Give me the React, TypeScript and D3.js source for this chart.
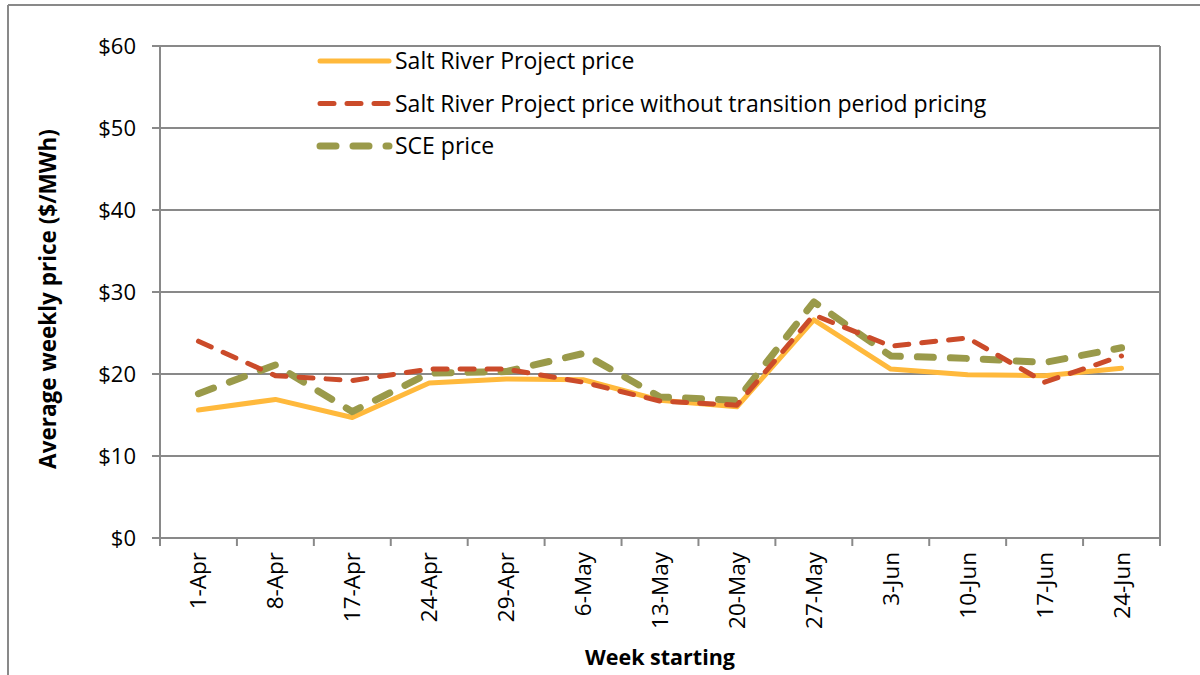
import * as d3 from 'd3'

const weeks = ['1-Apr', '8-Apr', '17-Apr', '24-Apr', '29-Apr', '6-May', '13-May', '20-May', '27-May', '3-Jun', '10-Jun', '17-Jun', '24-Jun']
const srpPrice = [15.6, 16.9, 14.7, 18.9, 19.4, 19.3, 16.8, 16.0, 26.6, 20.6, 19.9, 19.8, 20.7]
const srpNoTransition = [24.0, 19.8, 19.2, 20.6, 20.6, 19.0, 16.7, 16.2, 27.2, 23.4, 24.4, 19.0, 22.2]
const scePrice = [17.6, 21.1, 15.4, 20.1, 20.3, 22.5, 17.2, 16.8, 28.8, 22.2, 21.9, 21.4, 23.2]
const yTicks = [0, 10, 20, 30, 40, 50, 60]

const W = 1200
const H = 675
const PLOT = { left: 160, right: 1160, top: 46, bottom: 538 }
const FONT = '"Open Sans", "Liberation Sans", Arial, sans-serif'
const GRID = '#898989'

const SERIES = [
  { name: 'Salt River Project price', values: srpPrice, color: '#FFB93C', width: 5, dash: null },
  { name: 'Salt River Project price without transition period pricing', values: srpNoTransition, color: '#CB4B2A', width: 5, dash: '14 13' },
  { name: 'SCE price', values: scePrice, color: '#9A9A4A', width: 7, dash: '16 17' },
]

export default function App() {
  const x = d3.scaleBand<string>().domain(weeks).range([PLOT.left, PLOT.right])
  const y = d3.scaleLinear().domain([0, 60]).range([PLOT.bottom, PLOT.top])
  const cx = (w: string) => (x(w) ?? 0) + x.bandwidth() / 2

  const line = d3.line<number>()
    .x((_, i) => cx(weeks[i]))
    .y(d => y(d))

  // yellow underneath, then green, red on top
  const drawOrder = [0, 2, 1]

  return (
    <svg width={W} height={H} style={{ position: 'absolute', left: 0, top: 0, background: '#fff' }}>
      {/* outer chart frame */}
      <line x1={8} y1={5} x2={W} y2={5} stroke={GRID} strokeWidth={2} />
      <line x1={8} y1={5} x2={8} y2={H} stroke={GRID} strokeWidth={2} />

      {/* gridlines + y ticks */}
      {yTicks.map(t => (
        <g key={t}>
          <line x1={PLOT.left - 8} x2={PLOT.right} y1={y(t)} y2={y(t)} stroke={GRID} strokeWidth={2} />
          <text x={136} y={y(t)} dy="0.36em" textAnchor="end" fontFamily={FONT} fontSize={22} fill="#000">
            ${t}
          </text>
        </g>
      ))}

      {/* axes */}
      <line x1={PLOT.left} x2={PLOT.left} y1={PLOT.top} y2={PLOT.bottom + 8} stroke={GRID} strokeWidth={2} />
      <line x1={PLOT.right} x2={PLOT.right} y1={PLOT.top} y2={PLOT.bottom + 8} stroke={GRID} strokeWidth={2} />
      {weeks.slice(1).map(w => (
        <line key={w} x1={x(w)} x2={x(w)} y1={PLOT.bottom} y2={PLOT.bottom + 8} stroke={GRID} strokeWidth={2} />
      ))}

      {/* x labels */}
      {weeks.map(w => (
        <text
          key={w}
          transform={`translate(${cx(w) + 8}, 552) rotate(-90)`}
          textAnchor="end"
          fontFamily={FONT}
          fontSize={22.5}
          fill="#000"
        >
          {w}
        </text>
      ))}

      {/* series */}
      {drawOrder.map(i => {
        const s = SERIES[i]
        return (
          <path
            key={s.name}
            d={line(s.values) ?? ''}
            fill="none"
            stroke={s.color}
            strokeWidth={s.width}
            strokeDasharray={s.dash ?? undefined}
            strokeLinecap="round"
            strokeLinejoin="round"
          />
        )
      })}

      {/* legend */}
      {SERIES.map((s, i) => {
        const ly = 61 + i * 42.5
        return (
          <g key={s.name}>
            <line
              x1={320}
              x2={389}
              y1={ly}
              y2={ly}
              stroke={s.color}
              strokeWidth={s.width}
              strokeDasharray={s.dash ?? undefined}
              strokeLinecap="round"
            />
            <text x={395} y={ly} dy="0.36em" fontFamily={FONT} fontSize={23} fill="#000">
              {s.name}
            </text>
          </g>
        )
      })}

      {/* axis titles */}
      <text
        transform={`translate(56, 299) rotate(-90)`}
        textAnchor="middle"
        fontFamily={FONT}
        fontSize={22.5}
        fontWeight="bold"
        fill="#000"
      >
        Average weekly price ($/MWh)
      </text>
      <text x={660} y={665} textAnchor="middle" fontFamily={FONT} fontSize={21.5} fontWeight="bold" fill="#000">
        Week starting
      </text>
    </svg>
  )
}
